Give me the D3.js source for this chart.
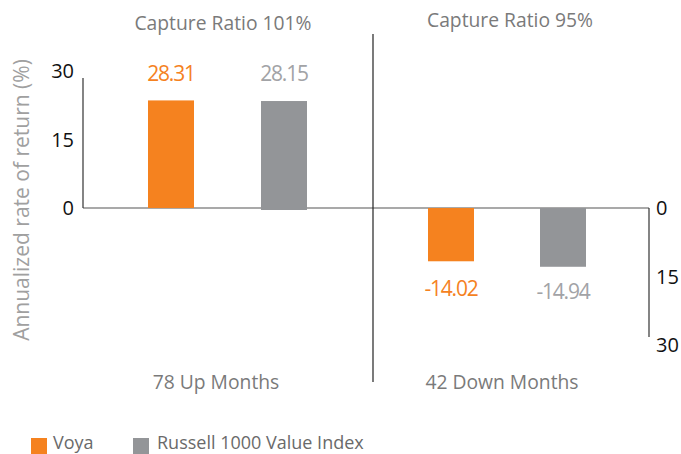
<!DOCTYPE html>
<html><head><meta charset="utf-8">
<script src="https://cdn.jsdelivr.net/npm/d3@7"></script>
<style>body{margin:0;background:#fff}svg{display:block}text{font-family:"Open Sans",sans-serif}</style>
</head><body><div id="chart"></div>
<script>
const panels = ["78 Up Months", "42 Down Months"];
const captureRatios = ["Capture Ratio 101%", "Capture Ratio 95%"];
const seriesNames = ["Voya", "Russell 1000 Value Index"];
const voyaValues = [28.31, -14.02];
const indexValues = [28.15, -14.94];
const tickValues = [0, 15, 30];
const colors = ["#F5821F", "#939598"];
const labelColors = ["#F5821F", "#A2A3A6"];

const W = 681, H = 454;
const svg = d3.select("#chart").append("svg").attr("width", W).attr("height", H);

const zeroY = 208;
// bar scale (value -> y)
const y = d3.scaleLinear().domain([-30, 30]).range([zeroY + 114, zeroY - 114]);
// axis label scales
const yLeft = d3.scaleLinear().domain([0, 30]).range([zeroY, 71]);
const yRight = d3.scaleLinear().domain([0, 30]).range([zeroY, 345]);

// zero line
svg.append("line").attr("x1", 83).attr("x2", 649).attr("y1", zeroY).attr("y2", zeroY)
  .attr("stroke", "#555").attr("stroke-width", 1.2);
// left axis line
svg.append("line").attr("x1", 83).attr("x2", 83).attr("y1", 78).attr("y2", zeroY).attr("stroke", "#333").attr("stroke-width", 1.2);
// right axis line
svg.append("line").attr("x1", 649).attr("x2", 649).attr("y1", zeroY).attr("y2", 337).attr("stroke", "#333").attr("stroke-width", 1.2);
// divider
svg.append("line").attr("x1", 373).attr("x2", 373).attr("y1", 34).attr("y2", 382).attr("stroke", "#222").attr("stroke-width", 1.2);

// tick labels
svg.selectAll(".tl").data(tickValues).join("text").attr("class", "tl")
  .attr("x", 74).attr("y", d => yLeft(d)).attr("dy", "0.36em").attr("text-anchor", "end")
  .attr("font-size", 20).attr("fill", "#111").text(d => d);
svg.selectAll(".tr").data(tickValues).join("text").attr("class", "tr")
  .attr("x", 656).attr("y", d => yRight(d)).attr("dy", "0.36em").attr("text-anchor", "start")
  .attr("font-size", 20).attr("fill", "#111").text(d => d);

// bar positions within each panel
const barCenters = [[171, 284], [451, 563]];
const barW = 46;
const data = [];
panels.forEach((p, i) => {
  data.push({panel: i, s: 0, v: voyaValues[i], cx: barCenters[i][0]});
  data.push({panel: i, s: 1, v: indexValues[i], cx: barCenters[i][1]});
});

svg.selectAll(".bar").data(data).join("rect").attr("class", "bar")
  .attr("x", d => d.cx - barW / 2).attr("width", barW)
  .attr("y", d => Math.min(y(d.v), y(0)))
  .attr("height", d => Math.abs(y(d.v) - y(0)) + (d.s === 1 ? 2 : 0))
  .attr("fill", d => colors[d.s]);

// value labels
svg.selectAll(".vl").data(data).join("text").attr("class", "vl")
  .attr("x", d => d.cx)
  .attr("y", d => d.v > 0 ? 73 : y(d.v) + 27)
  .attr("dy", "0.36em").attr("text-anchor", "middle")
  .attr("font-size", 21).attr("letter-spacing", "-1.2px")
  .attr("fill", d => labelColors[d.s]).text(d => d.v.toFixed(2));

// titles
const titleX = [223, 510], titleY = [23, 20];
captureRatios.forEach((t, i) => {
  svg.append("text").attr("x", titleX[i]).attr("y", titleY[i]).attr("dy", "0.36em")
    .attr("text-anchor", "middle").attr("font-size", 19.3).attr("fill", "#7a7a7a").text(t);
});
const footX = [216, 502];
panels.forEach((t, i) => {
  svg.append("text").attr("x", footX[i]).attr("y", 382).attr("dy", "0.36em")
    .attr("text-anchor", "middle").attr("font-size", 19.3).attr("fill", "#7a7a7a").text(t);
});

// y-axis title
svg.append("text").attr("transform", "translate(21,200) rotate(-90)").attr("dy", "0.36em")
  .attr("text-anchor", "middle").attr("font-size", 21).attr("fill", "#a0a0a0")
  .text("Annualized rate of return (%)");

// legend
const legX = [31, 133], legTX = [53, 157];
seriesNames.forEach((n, i) => {
  svg.append("rect").attr("x", legX[i]).attr("y", 438).attr("width", 16).attr("height", 16).attr("fill", colors[i]);
  svg.append("text").attr("x", legTX[i]).attr("y", 443).attr("dy", "0.36em")
    .attr("font-size", 18).attr("fill", "#6a6a6a").text(n);
});
</script></body></html>
